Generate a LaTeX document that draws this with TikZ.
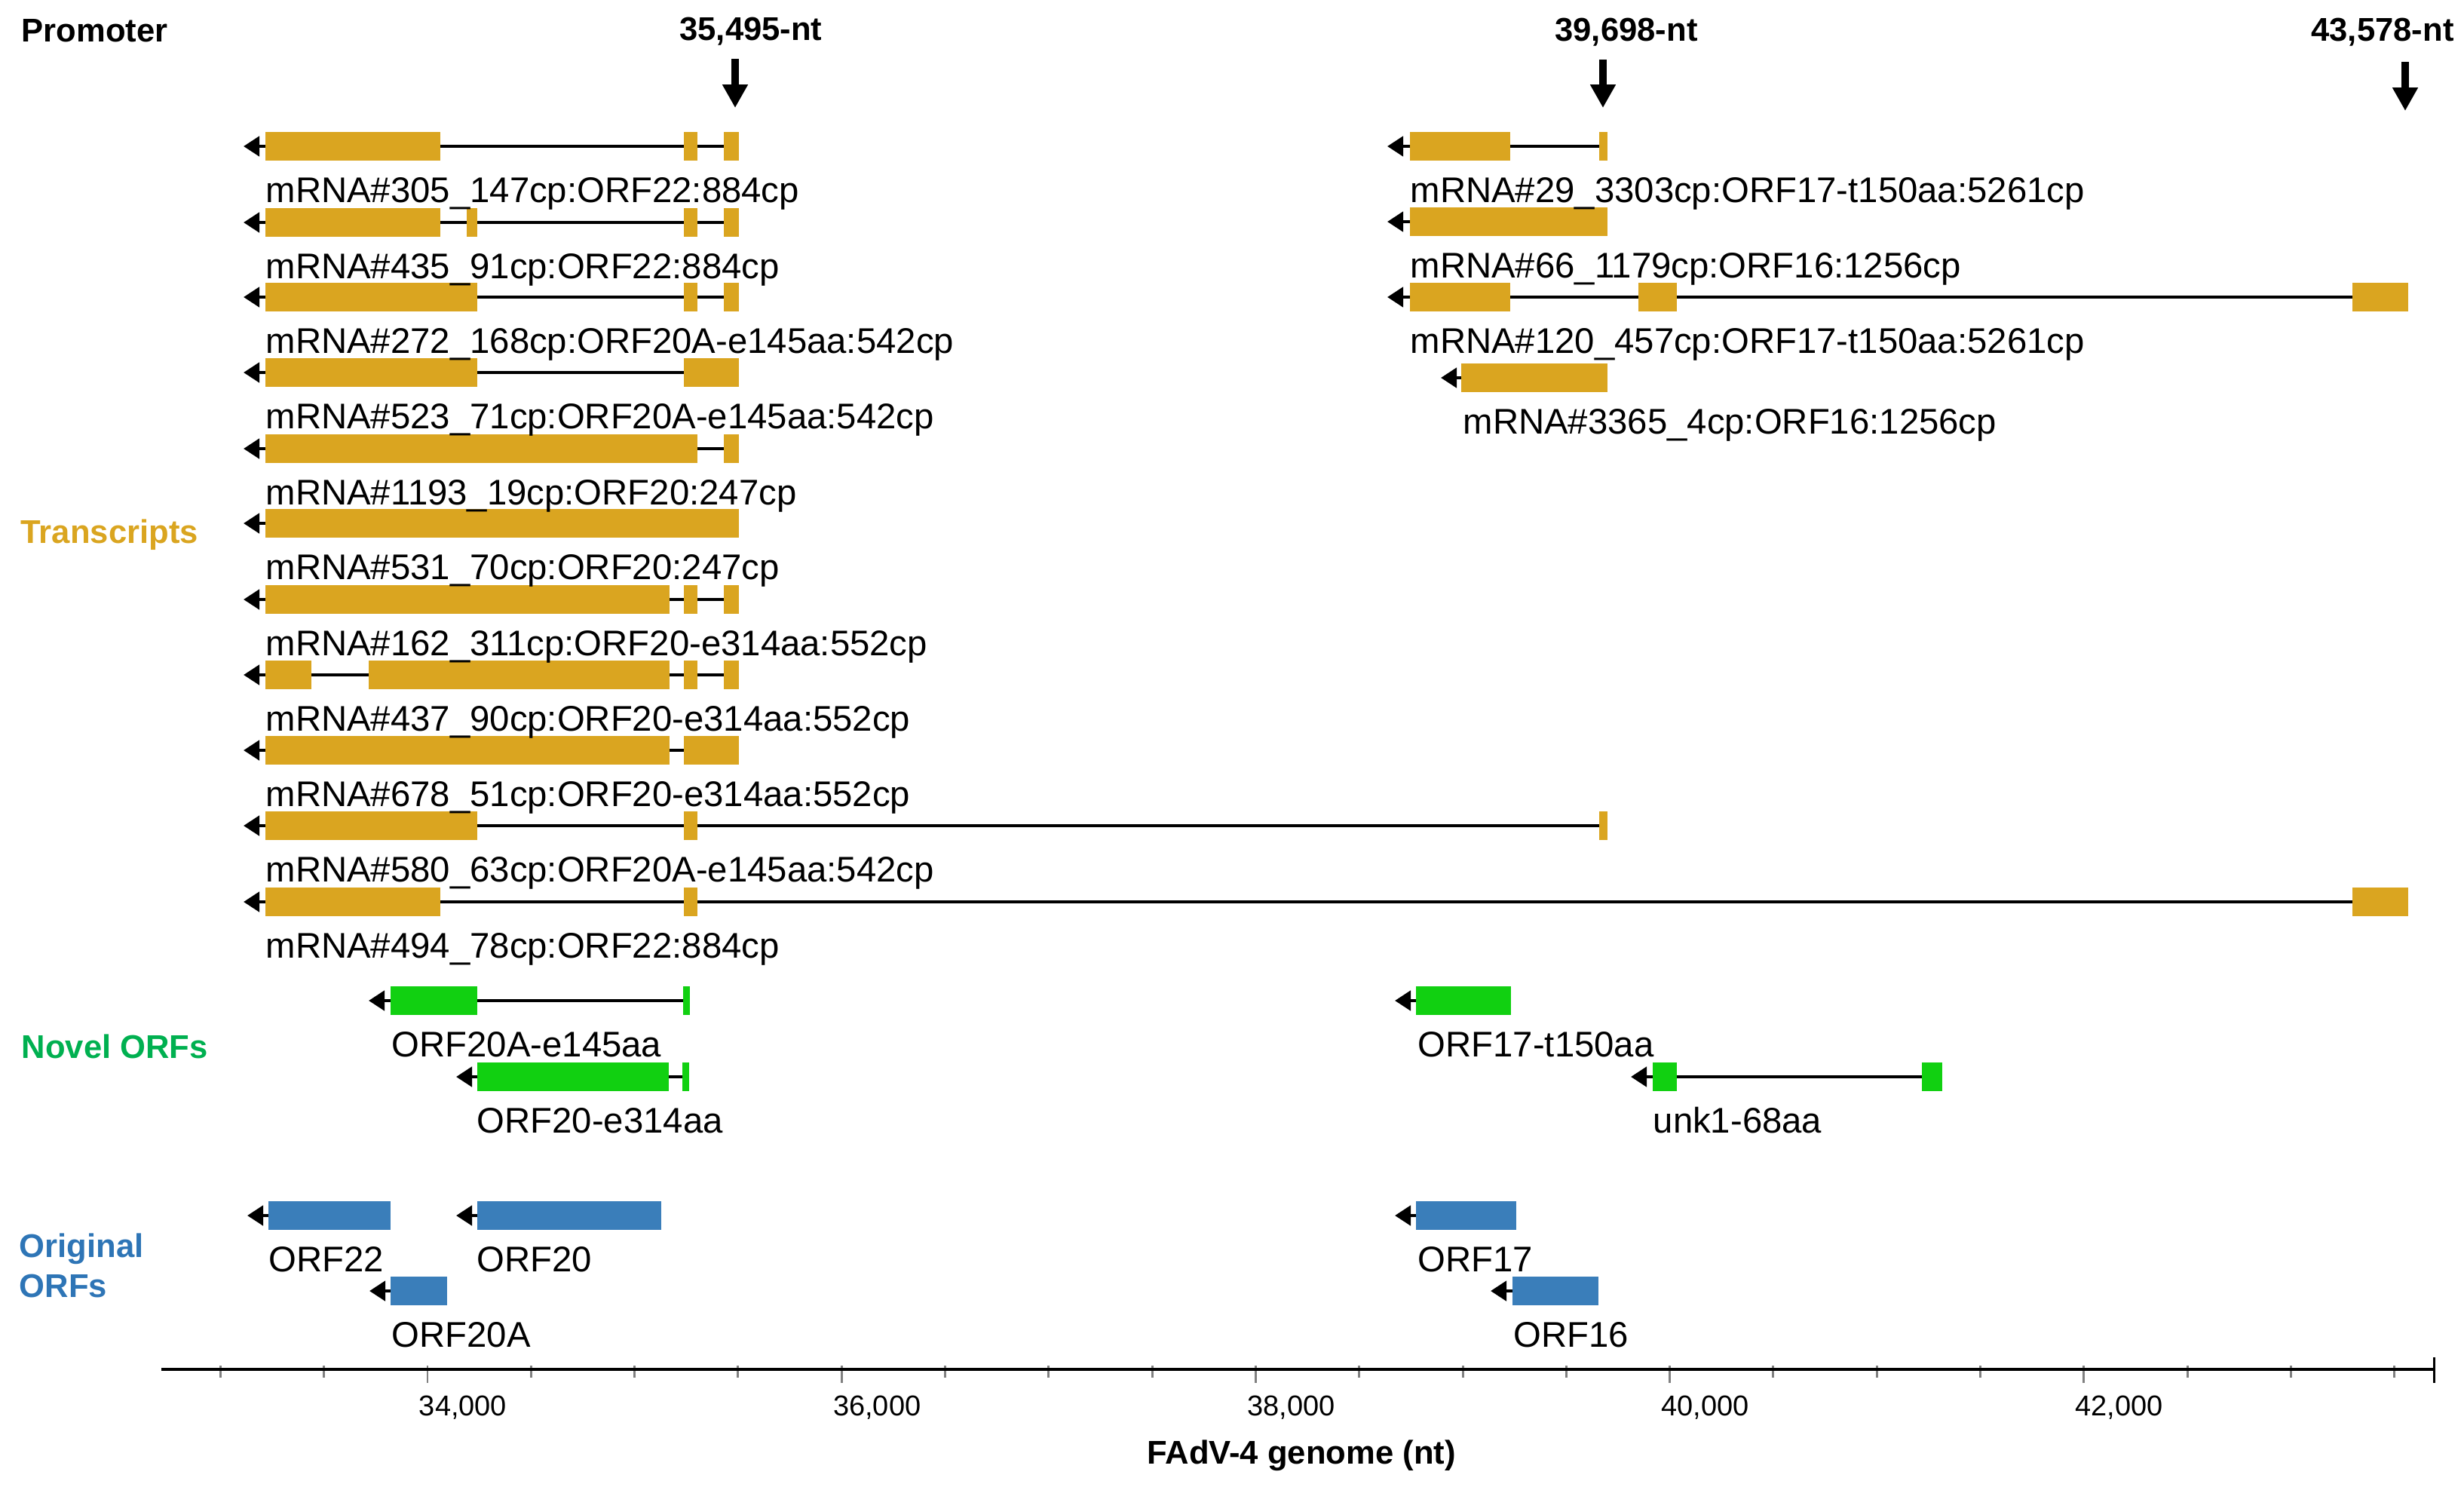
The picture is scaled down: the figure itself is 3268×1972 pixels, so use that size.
\documentclass[tikz,border=0pt]{standalone}
\usepackage{fontspec}
\setmainfont{Liberation Sans}
\usetikzlibrary{arrows.meta}

\definecolor{gold}{RGB}{218,165,32}
\definecolor{novel}{RGB}{17,208,17}
\definecolor{orig}{RGB}{58,126,186}
\definecolor{noveltxt}{RGB}{0,176,80}
\definecolor{origtxt}{RGB}{46,117,182}

% [colour]{row y}{tip x}{line start x}{exon list}
\newcommand{\gene}[5][gold]{%
  \draw[intron] (#4,#2) -- (#3,#2);
  \foreach \a/\b in {#5} {\fill[#1] (\a,#2-19) rectangle (\b,#2+19);}
}

\begin{document}
\begin{tikzpicture}[x=0.01cm, y=-0.01cm,
  intron/.style={line width=1.4pt, -{Triangle[length=6pt,width=7.4pt]}},
  prom/.style={line width=2.6pt, -{Triangle[length=8.8pt,width=9.1pt]}},
  lab/.style={inner sep=0pt, anchor=base west, font=\fontsize{13.45}{15}\selectfont},
  side/.style={inner sep=0pt, anchor=base west, font=\fontsize{12.4}{14}\selectfont\bfseries},
  tick/.style={line width=0.85pt, gray}]

\useasboundingbox (0,0) rectangle (3268,1972);

% side titles
\node[side] (prom) at (28,55) {Promoter};
\node[side, text=gold] (trans) at (27,720) {Transcripts};
\node[side, text=noveltxt] (novel) at (28,1403) {Novel ORFs};
\node[side, text=origtxt] (orig1) at (25,1667) {Original};
\node[side, text=origtxt] (orig2) at (25,1720) {ORFs};

% promoters
\node[side, anchor=base] (p1) at (996,53) {35,495-nt};
\node[side, anchor=base] (p2) at (2157,54) {39,698-nt};
\node[side, anchor=base] (p3) at (3160,54) {43,578-nt};
\coordinate (s1) at (975,78);  \coordinate (e1) at (975,143);
\coordinate (s2) at (2126,79); \coordinate (e2) at (2126,143);
\coordinate (s3) at (3190,82); \coordinate (e3) at (3190,147);
\draw[prom] (s1) -- (e1);
\draw[prom] (s2) -- (e2);
\draw[prom] (s3) -- (e3);

% transcripts, left group
\gene{194}{323}{960}{352/584,907/925,960/980}
\gene{295}{323}{960}{352/584,619/633,907/925,960/980}
\gene{394}{323}{960}{352/633,907/925,960/980}
\gene{494}{323}{907}{352/633,907/980}
\gene{595}{323}{960}{352/925,960/980}
\gene{694}{323}{360}{352/980}
\gene{795}{323}{960}{352/888,907/925,960/980}
\gene{895}{323}{960}{352/413,489/888,907/925,960/980}
\gene{995}{323}{907}{352/888,907/980}
\gene{1095}{323}{2121}{352/633,907/925,2121/2132}
\gene{1196}{323}{3120}{352/584,907/925,3120/3194}

\node[lab] (t1) at (352,268) {mRNA\#305\_147cp:ORF22:884cp};
\node[lab] (t2) at (352,369) {mRNA\#435\_91cp:ORF22:884cp};
\node[lab] (t3) at (352,468) {mRNA\#272\_168cp:ORF20A-e145aa:542cp};
\node[lab] (t4) at (352,568) {mRNA\#523\_71cp:ORF20A-e145aa:542cp};
\node[lab] (t5) at (352,669) {mRNA\#1193\_19cp:ORF20:247cp};
\node[lab] (t6) at (352,768) {mRNA\#531\_70cp:ORF20:247cp};
\node[lab] (t7) at (352,869) {mRNA\#162\_311cp:ORF20-e314aa:552cp};
\node[lab] (t8) at (352,969) {mRNA\#437\_90cp:ORF20-e314aa:552cp};
\node[lab] (t9) at (352,1069) {mRNA\#678\_51cp:ORF20-e314aa:552cp};
\node[lab] (t10) at (352,1169) {mRNA\#580\_63cp:ORF20A-e145aa:542cp};
\node[lab] (t11) at (352,1270) {mRNA\#494\_78cp:ORF22:884cp};

% transcripts, right group
\gene{194}{1840}{2121}{1870/2003,2121/2132}
\gene{294}{1840}{1880}{1870/2132}
\gene{394}{1840}{3120}{1870/2003,2173/2224,3120/3194}
\gene{501}{1911}{1948}{1938/2132}

\node[lab] (r1) at (1870,268) {mRNA\#29\_3303cp:ORF17-t150aa:5261cp};
\node[lab] (r2) at (1870,368) {mRNA\#66\_1179cp:ORF16:1256cp};
\node[lab] (r3) at (1870,468) {mRNA\#120\_457cp:ORF17-t150aa:5261cp};
\node[lab] (r4) at (1940,575) {mRNA\#3365\_4cp:ORF16:1256cp};

% novel ORFs
\gene[novel]{1327}{489}{906}{518/633,906/915}
\gene[novel]{1327}{1850}{1888}{1878/2004}
\gene[novel]{1428}{605}{905}{633/887,905/914}
\gene[novel]{1428}{2163}{2549}{2192/2224,2549/2576}

\node[lab] (n1) at (519,1401) {ORF20A-e145aa};
\node[lab] (n2) at (1880,1401) {ORF17-t150aa};
\node[lab] (n3) at (632,1502) {ORF20-e314aa};
\node[lab] (n4) at (2192,1502) {unk1-68aa};

% original ORFs
\gene[orig]{1612}{328}{366}{356/518}
\gene[orig]{1612}{605}{643}{633/877}
\gene[orig]{1612}{1850}{1888}{1878/2011}
\gene[orig]{1712}{490}{528}{518/593}
\gene[orig]{1712}{1977}{2016}{2006/2120}

\node[lab] (o1) at (356,1686) {ORF22};
\node[lab] (o2) at (632,1686) {ORF20};
\node[lab] (o3) at (1880,1686) {ORF17};
\node[lab] (o4) at (519,1786) {ORF20A};
\node[lab] (o5) at (2007,1786) {ORF16};

% genome axis
\coordinate (axl) at (214,1816);
\coordinate (axr) at (3228,1816);
\foreach \k in {-2,...,19}
{
\pgfmathsetmacro\tx{567+137.3*\k}
\draw[tick] (\tx,1811) -- (\tx,1827);
}
\foreach \v in {34,36,...,42}
{
\pgfmathsetmacro\tx{567+274.6*(\v-34)}
\draw[tick] (\tx,1811) -- (\tx,1834);
\node[inner sep=0pt, anchor=base, font=\fontsize{10.8}{13}\selectfont] (l\v) at (\tx+47,1877) {\v,000};
}
\draw[line width=1.4pt] (axl) -- (axr);
\draw[line width=0.85pt] (3228,1800) -- (3228,1834);
\node[side, anchor=base] (axt) at (1726,1941) {FAdV-4 genome (nt)};

\end{tikzpicture}
\end{document}
